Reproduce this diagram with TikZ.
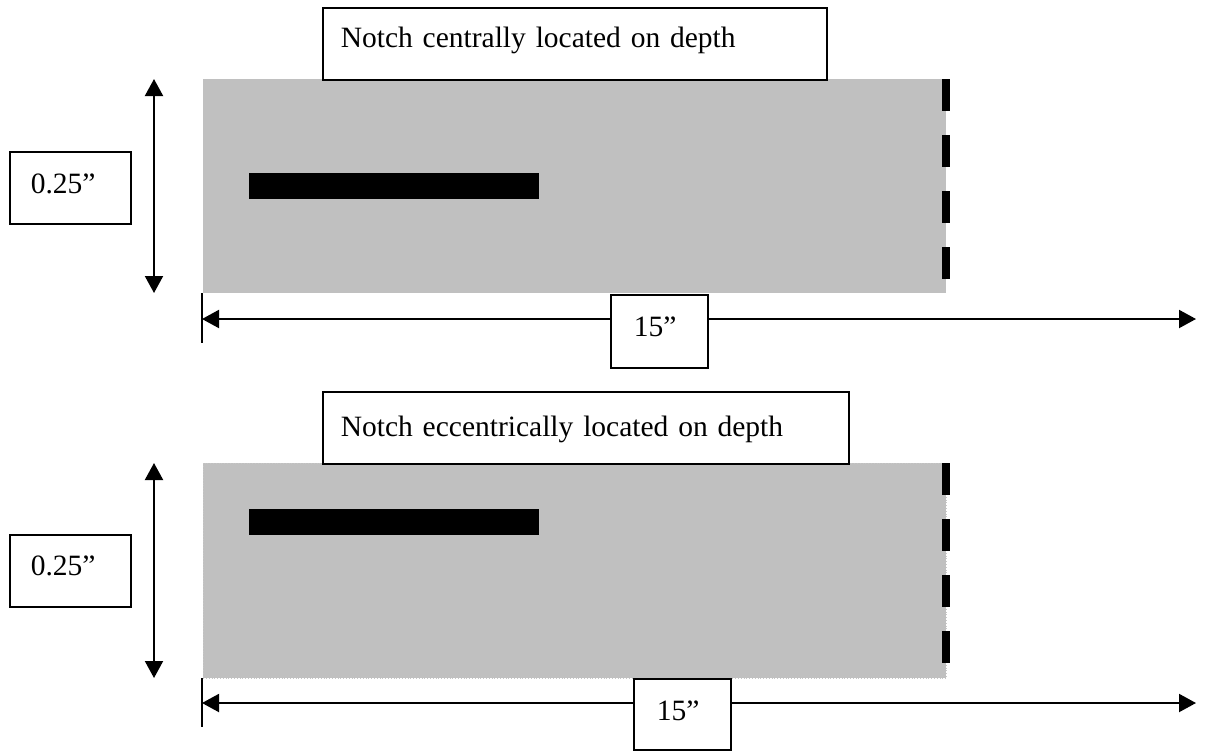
\documentclass[tikz,border=0pt]{standalone}
\usepackage{fontspec}
\setmainfont{Liberation Serif}[WordSpace=0.85]
\usetikzlibrary{arrows.meta}
\definecolor{plategray}{HTML}{C0C0C0}
\begin{document}
\begin{tikzpicture}[x=1pt,y=-1pt,
  labelbox/.style={draw, line width=1.6pt, fill=white, inner ysep=0pt, align=left,
    font=\fontsize{29.5}{36}\selectfont, anchor=north west},
  plate/.style={fill=plategray, inner sep=0pt, anchor=north west},
  notchbar/.style={fill=black, inner sep=0pt, anchor=north west, minimum width=290pt, minimum height=26pt},
  edgedash/.style={line width=8pt, dash pattern=on 32pt off 24pt},
  dimarrow/.style={line width=2pt, {Triangle[length=17pt,width=18pt]}-{Triangle[length=17pt,width=18pt]}},
  ticks/.style={line width=2pt}]
\useasboundingbox (0,0) rectangle (1209,750);

% ---------- top ----------
\node[plate, minimum width=743pt, minimum height=214pt] (plateA) at (203,79) {};
\node[notchbar] (notchA) at (249,173) {};
\coordinate (edgeAtop) at (946,79);
\coordinate (edgeAbot) at (946,279);
\draw[edgedash] (edgeAtop) -- (edgeAbot);

\coordinate (vAtop) at (154,79);
\coordinate (vAbot) at (154,293);
\draw[dimarrow] (vAtop) -- (vAbot);

\coordinate (tickAtop) at (202,293);
\coordinate (tickAbot) at (202,343);
\draw[ticks] (tickAtop) -- (tickAbot);
\coordinate (hAleft) at (202,319);
\coordinate (hAright) at (1196,319);
\draw[dimarrow] (hAleft) -- (hAright);

\node[labelbox, inner xsep=18pt, text width=468pt, text height=40pt, text depth=32pt] (titleA) at (322,7) {Notch centrally located on depth};
\node[labelbox, inner xsep=21pt, text width=79pt, text height=42pt, text depth=30pt] (depthA) at (9,151) {0.25”};
\node[labelbox, inner xsep=23pt, text width=51pt, text height=42pt, text depth=31pt] (lenA) at (610,294) {15”};

% ---------- bottom ----------
\node[plate, minimum width=743pt, minimum height=215pt] (plateB) at (203,463) {};
\draw[gray!45, dotted, line width=0.8pt] (plateB.north west) rectangle (plateB.south east);
\node[notchbar] (notchB) at (249,509) {};
\coordinate (edgeBtop) at (946,463);
\coordinate (edgeBbot) at (946,663);
\draw[edgedash] (edgeBtop) -- (edgeBbot);

\coordinate (vBtop) at (154,463);
\coordinate (vBbot) at (154,678);
\draw[dimarrow] (vBtop) -- (vBbot);

\coordinate (tickBtop) at (202,678);
\coordinate (tickBbot) at (202,727);
\draw[ticks] (tickBtop) -- (tickBbot);
\coordinate (hBleft) at (202,703);
\coordinate (hBright) at (1196,703);
\draw[dimarrow] (hBleft) -- (hBright);

\node[labelbox, inner xsep=18pt, text width=490pt, text height=45pt, text depth=27pt] (titleB) at (322,391) {Notch eccentrically located on depth};
\node[labelbox, inner xsep=21pt, text width=79pt, text height=41pt, text depth=31pt] (depthB) at (9,534) {0.25”};
\node[labelbox, inner xsep=23pt, text width=51pt, text height=42pt, text depth=29pt] (lenB) at (633,678) {15”};
\end{tikzpicture}
\end{document}
